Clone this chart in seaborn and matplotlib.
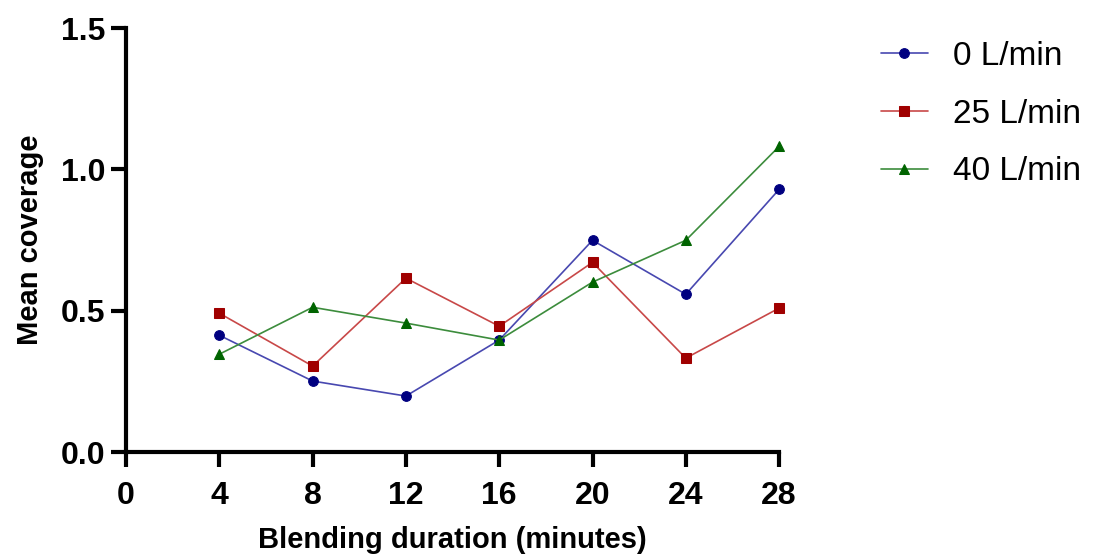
import matplotlib
matplotlib.use("Agg")
import matplotlib.pyplot as plt
import seaborn as sns
import pandas as pd

durations = [4, 8, 12, 16, 20, 24, 28]
flow_0 = [0.413, 0.251, 0.198, 0.396, 0.749, 0.558, 0.929]
flow_25 = [0.491, 0.304, 0.615, 0.445, 0.671, 0.332, 0.509]
flow_40 = [0.346, 0.512, 0.456, 0.396, 0.601, 0.749, 1.081]
series_names = ["0 L/min", "25 L/min", "40 L/min"]
x_ticks = [0, 4, 8, 12, 16, 20, 24, 28]
y_ticks = [0.0, 0.5, 1.0, 1.5]

rows = []
for name, vals in zip(series_names, [flow_0, flow_25, flow_40]):
    for d, v in zip(durations, vals):
        rows.append({"duration": d, "coverage": v, "flow": name})
df = pd.DataFrame(rows)

sns.set_style("white")
plt.rcParams["font.family"] = ["Liberation Sans", "DejaVu Sans"]
plt.rcParams["text.color"] = "black"
plt.rcParams["axes.labelcolor"] = "black"
plt.rcParams["xtick.color"] = "black"
plt.rcParams["ytick.color"] = "black"

marker_colors = {"0 L/min": "#000080", "25 L/min": "#a00000", "40 L/min": "#006400"}
line_colors = {"0 L/min": "#4848b0", "25 L/min": "#c84848", "40 L/min": "#3c8c3c"}
markers = {"0 L/min": "o", "25 L/min": "s", "40 L/min": "^"}

fig = plt.figure(figsize=(10.97, 5.57), dpi=100)
ax = fig.add_axes([0.1149, 0.1885, 0.5953, 0.7612])

sns.lineplot(data=df, x="duration", y="coverage", hue="flow", style="flow",
             palette=line_colors, markers=markers, dashes=False,
             hue_order=series_names, style_order=series_names,
             markersize=7, linewidth=1.2, ax=ax, legend=True)

for line, name in zip(ax.lines[:3], series_names):
    line.set_markerfacecolor(marker_colors[name])
    line.set_markeredgecolor(marker_colors[name])
    line.set_clip_on(False)

ax.set_xlim(0, 28)
ax.set_ylim(0, 1.5)
ax.set_xticks(x_ticks)
ax.set_yticks(y_ticks)
ax.set_yticklabels([f"{v:.1f}" for v in y_ticks])
for lab in ax.get_xticklabels() + ax.get_yticklabels():
    lab.set_fontweight("bold")
    lab.set_fontsize(23)
    lab.set_color("black")

sns.despine(ax=ax)
for s in ["left", "bottom"]:
    ax.spines[s].set_linewidth(3)
    ax.spines[s].set_color("black")
ax.tick_params(axis="both", direction="out", length=11, width=3, color="black",
               bottom=True, left=True)
ax.tick_params(axis="x", pad=10)
ax.tick_params(axis="y", pad=4)

ax.set_xlabel("Blending duration (minutes)", fontsize=21, fontweight="bold", labelpad=11)
ax.set_ylabel("Mean coverage", fontsize=21, fontweight="bold", labelpad=12)

handles, labels = ax.get_legend_handles_labels()
for h, name in zip(handles, labels):
    h.set_markerfacecolor(marker_colors[name])
    h.set_markeredgecolor(marker_colors[name])
ax.legend(handles, labels, loc="upper left", bbox_to_anchor=(1.11, 1.04),
          frameon=False, fontsize=24, handlelength=1.4, labelspacing=0.8,
          handletextpad=0.75)

fig.savefig("out.png", dpi=100)
